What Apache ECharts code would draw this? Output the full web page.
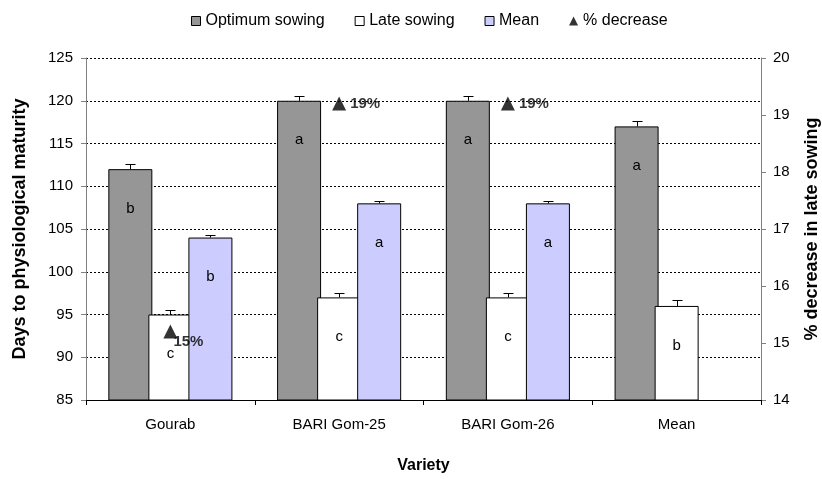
<!DOCTYPE html>
<html><head><meta charset="utf-8">
<script src="https://cdn.jsdelivr.net/npm/echarts@6/dist/echarts.min.js"></script>
<style>html,body{margin:0;padding:0;background:#fff}#c{width:822px;height:479px}</style>
</head><body><div id="c"></div>
<script>
const categories = ['Gourab', 'BARI Gom-25', 'BARI Gom-26', 'Mean'];
const optimum = [112, 120, 120, 117];
const late = [95, 97, 97, 96];
const meanVals = [104, 108, 108, null];
const optimumErr = [0.6, 0.5, 0.5, 0.6];
const lateErr = [0.5, 0.5, 0.5, 0.7];
const meanErr = [0.3, 0.3, 0.3, null];
const optimumLetters = ['b', 'a', 'a', 'a'];
const lateLetters = ['c', 'c', 'c', 'b'];
const meanLetters = ['b', 'a', 'a', ''];
const pctDecrease = [15.2, 19.2, 19.2, null];
const pctLabels = ['15%', '19%', '19%', ''];

const FONT = '"Liberation Sans", Arial, sans-serif';
const BAR_W = 44;
const BAR_GAP = '-9%';
const STEP = 40;

function letterLabel(letters) {
  return {
    show: true, position: 'insideTop', distance: 32,
    color: '#000', fontSize: 15, fontFamily: FONT,
    formatter: p => letters[p.dataIndex] || ''
  };
}
function barSeries(name, vals, color, letters) {
  return {
    name, type: 'bar', data: vals, barWidth: BAR_W, barGap: BAR_GAP,
    itemStyle: { color, borderColor: '#000', borderWidth: 1 },
    label: letterLabel(letters), z: 2
  };
}
function errSeries(vals, errs, offset) {
  return {
    type: 'custom', z: 6, silent: true,
    renderItem(params, api) {
      const i = api.value(0), v = api.value(1), e = api.value(2);
      const p0 = api.coord([i, v]);
      const p1 = api.coord([i, v + e]);
      const x = Math.round(p0[0] + offset) + 0.5;
      const yt = Math.round(p1[1]) + 0.5;
      return {
        type: 'group', children: [
          { type: 'line', shape: { x1: x, y1: p0[1], x2: x, y2: yt }, style: { stroke: '#000', lineWidth: 1 } },
          { type: 'line', shape: { x1: x - 5, y1: yt, x2: x + 5, y2: yt }, style: { stroke: '#000', lineWidth: 1 } }
        ]
      };
    },
    data: vals.map((v, i) => v == null ? null : [i, v, errs[i]]).filter(Boolean)
  };
}

const pctData = pctDecrease.map((v, i) => {
  if (v == null) return null;
  const item = { value: v };
  if (i === 0) item.label = { offset: [-8, 10] };
  return item;
});

const chart = echarts.init(document.getElementById('c'), null, { renderer: 'canvas' });
chart.setOption({
  animation: false,
  backgroundColor: '#fff',
  textStyle: { fontFamily: FONT },
  grid: { left: 86, right: 61, top: 58, bottom: 79, containLabel: false, outerBoundsMode: 'none' },
  legend: {
    top: 8, left: 186, itemWidth: 9, itemHeight: 9, itemGap: 30,
    textStyle: { fontSize: 16, color: '#000', fontFamily: FONT },
    data: [
      { name: 'Optimum sowing', icon: 'rect', itemStyle: { color: '#969696', borderColor: '#000', borderWidth: 1 } },
      { name: 'Late sowing', icon: 'rect', itemStyle: { color: '#fff', borderColor: '#000', borderWidth: 1 } },
      { name: 'Mean', icon: 'rect', itemStyle: { color: '#ccccff', borderColor: '#000', borderWidth: 1 } },
      { name: '% decrease', icon: 'triangle', itemStyle: { color: '#000' } }
    ]
  },
  xAxis: {
    type: 'category', data: categories,
    name: 'Variety', nameLocation: 'middle', nameGap: 58,
    nameTextStyle: { fontSize: 16, fontWeight: 'bold', color: '#000', fontFamily: FONT },
    axisLine: { lineStyle: { color: '#000', width: 1 } },
    axisTick: { show: true, length: 5, lineStyle: { color: '#000' } },
    axisLabel: { color: '#000', fontSize: 15, margin: 17, fontFamily: FONT }
  },
  yAxis: [
    {
      type: 'value', min: 85, max: 125, interval: 5,
      name: 'Days to physiological maturity', nameLocation: 'middle', nameGap: 57,
      nameTextStyle: { fontSize: 18, fontWeight: 'bold', color: '#000', fontFamily: FONT },
      axisLine: { show: true, lineStyle: { color: '#808080' } },
      axisTick: { show: true, length: 5, lineStyle: { color: '#808080' } },
      axisLabel: { color: '#000', fontSize: 15, margin: 13, fontFamily: FONT },
      splitLine: { show: true, lineStyle: { color: '#000', width: 1, type: [2, 2] } }
    },
    {
      type: 'value', min: 14, max: 20, interval: 1, position: 'right',
      name: '% decrease in late sowing', nameLocation: 'middle', nameGap: 42, nameRotate: 90,
      nameTextStyle: { fontSize: 18, fontWeight: 'bold', color: '#000', fontFamily: FONT },
      axisLine: { show: true, lineStyle: { color: '#808080' } },
      axisTick: { show: true, length: 5, lineStyle: { color: '#808080' } },
      axisLabel: { color: '#000', fontSize: 15, margin: 12, fontFamily: FONT },
      splitLine: { show: false }
    }
  ],
  series: [
    barSeries('Optimum sowing', optimum, '#969696', optimumLetters),
    barSeries('Late sowing', late, '#ffffff', lateLetters),
    barSeries('Mean', meanVals, '#ccccff', meanLetters),
    errSeries(optimum, optimumErr, -STEP),
    errSeries(late, lateErr, 0),
    errSeries(meanVals, meanErr, STEP),
    {
      name: '% decrease', type: 'scatter', yAxisIndex: 1, z: 8,
      symbol: 'triangle', symbolSize: [14, 14],
      itemStyle: { color: '#000' },
      data: pctData,
      label: {
        show: true, position: 'right', distance: 4,
        color: '#000', fontSize: 15, fontWeight: 'bold', fontFamily: FONT,
        formatter: p => pctLabels[p.dataIndex]
      }
    }
  ]
});
</script>
</body></html>
